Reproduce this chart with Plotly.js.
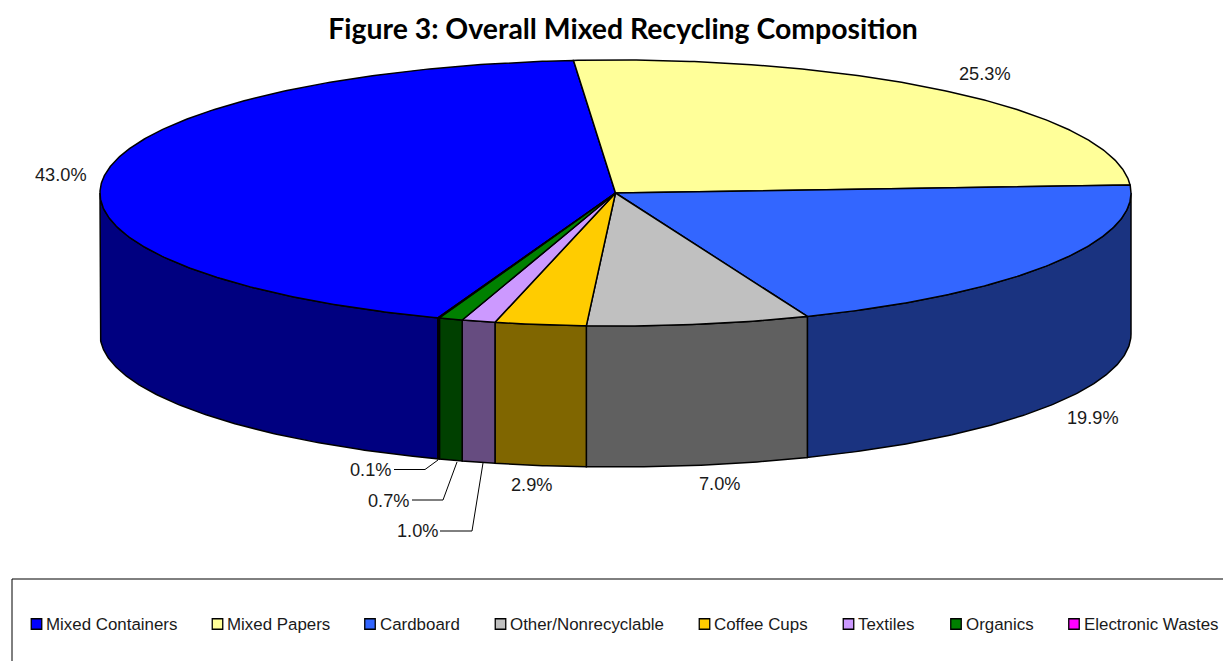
<!DOCTYPE html>
<html>
<head>
<meta charset="utf-8">
<script src="https://cdn.plot.ly/plotly-3.0.1.min.js"></script>
<style>html,body{margin:0;padding:0;background:#fff;overflow:hidden}#chart{width:1223px;height:661px}</style>
</head>
<body>
<div id="chart"></div>
<script>
var categories = ["Mixed Containers","Mixed Papers","Cardboard","Other/Nonrecyclable","Coffee Cups","Textiles","Organics","Electronic Wastes"];
var values = [43.04,25.3,19.86,6.96,2.85,1.049,0.74,0.05];
var labels = ["43.0%","25.3%","19.9%","7.0%","2.9%","1.0%","0.7%","0.1%"];
var topColors = ["#0000FF","#FFFF99","#3366FF","#C0C0C0","#FFCC00","#CC99FF","#008000","#FF00FF"];
var sideColors = ["#000080","#80804D","#1A3380","#606060","#806600","#664C80","#004000","#800080"];
var labelX = [61,985,1093,719.5,531.5,417,388.5,370.5];
var labelY = [175,74,418,484,485,531,500.5,469.5];
var legendSwatchX = [36.5,217.5,370,500.5,704.5,848.5,956,1074];
var legendTextX = [46,227,380,510,714,858,966,1084];
var leaderPaths = [[[440,531],[472,531],[483,463]],[[412,500],[443,500],[457,462]],[[394,469.5],[425,469.5],[438,460]]];

var CX=615.5, CY=193, RX=515.5, RY=133, DEPTH=141, START=-159.85;
function pt(deg,dy){var r=deg*Math.PI/180;return [CX+RX*Math.sin(r), CY-RY*Math.cos(r)+(dy||0)];}
function arc(a,b,dy){var n=Math.max(2,Math.ceil(Math.abs(b-a)/0.5)),o=[];for(var i=0;i<=n;i++)o.push(pt(a+(b-a)*i/n,dy));return o;}
function poly(points,color,w){return {type:'scatter',mode:'lines',x:points.map(function(p){return p[0]}),y:points.map(function(p){return p[1]}),
  fill:'toself',fillcolor:color,line:{color:'#000',width:w||1.5,shape:'linear'},hoverinfo:'skip',showlegend:false};}

var total=values.reduce(function(a,b){return a+b},0), sides=[], tops=[], a=START;
values.forEach(function(v,i){
  var b=a+v/total*360;
  tops.push(poly([[CX,CY]].concat(arc(a,b,0)).concat([[CX,CY]]),topColors[i]));
  // front wall: only the angular range between 90 and 270 degrees is visible
  [[a,b],[a+360,b+360],[a-360,b-360]].forEach(function(r){
    var s=Math.max(r[0],90), e=Math.min(r[1],270);
    if(e>s) sides.push(poly(arc(s,e,0).concat(arc(e,s,DEPTH)).concat([pt(s,0)]),sideColors[i]));
  });
  a=b;
});
var legendTraces=categories.map(function(c,i){return {type:'scatter',mode:'markers',x:[legendSwatchX[i]],y:[624],name:c,
  marker:{symbol:'square',size:10.5,color:topColors[i],line:{color:'#000',width:1.3}},hoverinfo:'skip',showlegend:false};});
var leaders=leaderPaths.map(function(p){return {type:'scatter',mode:'lines',x:p.map(function(q){return q[0]}),y:p.map(function(q){return q[1]}),
  line:{color:'#000',width:1},hoverinfo:'skip',showlegend:false};});

var annotations=labels.map(function(t,i){return {x:labelX[i],y:labelY[i],xref:'x',yref:'y',text:t,showarrow:false,xanchor:'center',yanchor:'middle',
  font:{family:'Liberation Sans, Arial, sans-serif',size:18.2,color:'#1a1a1a'}};});
categories.forEach(function(c,i){annotations.push({x:legendTextX[i],y:624,xref:'x',yref:'y',text:c,showarrow:false,xanchor:'left',yanchor:'middle',xshift:-2,
  font:{family:'Liberation Sans, Arial, sans-serif',size:16.9,color:'#1a1a1a'}});});

var layout={width:1223,height:661,margin:{l:0,r:0,t:0,b:0},paper_bgcolor:'#fff',plot_bgcolor:'#fff',
  title:{text:'<b>Figure 3: Overall Mixed Recycling Composition</b>',x:623/1223,xanchor:'center',y:1-29/661,yanchor:'middle',
    font:{family:'Lato, sans-serif',size:28.4,color:'#000'}},
  xaxis:{range:[0,1223],visible:false,fixedrange:true},
  yaxis:{range:[661,0],visible:false,fixedrange:true},
  showlegend:false,
  shapes:[{type:'rect',xref:'x',yref:'y',x0:12,x1:1300,y0:579,y1:700,line:{color:'#000',width:1},fillcolor:'rgba(0,0,0,0)'}],
  annotations:annotations};
Plotly.newPlot('chart',sides.concat(tops).concat(leaders).concat(legendTraces),layout,{displayModeBar:false,staticPlot:true});
</script>
</body>
</html>
